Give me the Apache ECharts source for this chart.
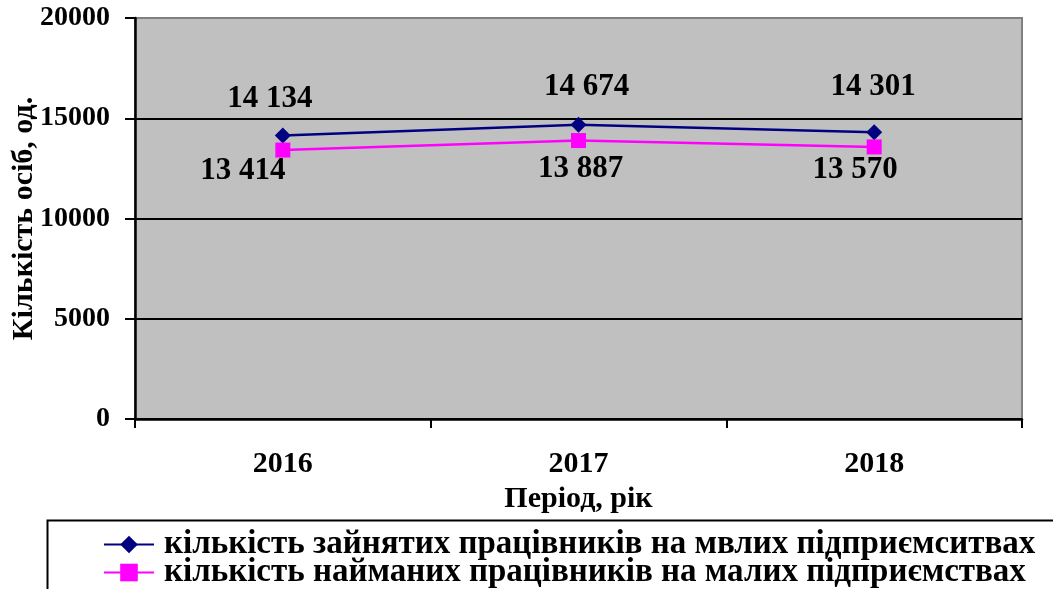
<!DOCTYPE html>
<html>
<head>
<meta charset="utf-8">
<script src="https://cdn.jsdelivr.net/npm/echarts@6/dist/echarts.min.js"></script>
<style>
  html, body { margin: 0; padding: 0; background: #fff; }
  #chart { width: 1053px; height: 589px; }
</style>
</head>
<body>
<div id="chart"></div>
<script>
const years = ["2016", "2017", "2018"];
const employed = [14134, 14674, 14301];
const hired = [13414, 13887, 13570];
const yTicks = [0, 5000, 10000, 15000, 20000];
const seriesNames = [
  "кількість зайнятих працівників на мвлих підприємситвах",
  "кількість найманих працівників на малих підприємствах"
];

// label nudges, point -> label centre
const employedOffsets = [[-13, -37], [8, -38], [-1, -45]];
const hiredOffsets = [[-40, 21], [2, 28], [-19, 23]];

const font = '"Liberation Serif", "Times New Roman", serif';
const fmt = (v) => String(v).replace(/\B(?=(\d{3})+(?!\d))/g, " ");

function withLabels(values, offsets) {
  return values.map((v, i) => ({
    value: v,
    label: { offset: offsets[i] }
  }));
}

// one legend per row so the bottom edge never forces a wrap
function legendRow(name, top) {
  return {
    orient: "vertical",
    left: 103,
    top: top,
    itemWidth: 50,
    itemHeight: 22,
    padding: 0,
    textStyle: { fontFamily: font, fontWeight: "bold", fontSize: 33, color: "#000", padding: [0, 0, 0, 5] },
    data: [name]
  };
}

const chart = echarts.init(document.getElementById("chart"));
chart.setOption({
  animation: false,
  textStyle: { fontFamily: font },
  grid: {
    left: 135, right: 31, top: 18, bottom: 170,
    outerBoundsMode: "none",
    show: true, backgroundColor: "#c0c0c0", borderColor: "#808080", borderWidth: 2
  },
  xAxis: {
    type: "category",
    data: years,
    boundaryGap: true,
    name: "Період, рік",
    nameLocation: "middle",
    nameGap: 55,
    nameTextStyle: { fontFamily: font, fontWeight: "bold", fontSize: 30, color: "#000" },
    axisLine: { lineStyle: { color: "#000", width: 2.5 } },
    axisTick: { show: true, interval: 0, length: 9, lineStyle: { color: "#000", width: 2 } },
    axisLabel: { margin: 30, fontFamily: font, fontWeight: "bold", fontSize: 30, color: "#000" }
  },
  yAxis: {
    type: "value",
    min: yTicks[0],
    max: yTicks[yTicks.length - 1],
    interval: yTicks[1] - yTicks[0],
    name: "Кількість осіб, од.",
    nameLocation: "middle",
    nameRotate: 90,
    nameGap: 96,
    nameMoveOverlap: false,
    nameTextStyle: { fontFamily: font, fontWeight: "bold", fontSize: 30, color: "#000" },
    axisLine: { show: true, lineStyle: { color: "#000", width: 2.5 } },
    axisTick: { show: true, inside: false, length: 10, lineStyle: { color: "#000", width: 2 } },
    axisLabel: {
      margin: 25, fontFamily: font, fontWeight: "bold", fontSize: 28, color: "#000",
      formatter: (v) => String(v)
    },
    splitLine: { show: true, showMaxLine: false, lineStyle: { color: "#000", width: 2 } }
  },
  legend: [legendRow(seriesNames[0], 528), legendRow(seriesNames[1], 556)],
  graphic: [{
    type: "rect",
    left: 45,
    top: 518,
    shape: { width: 1030, height: 90 },
    style: { fill: "none", stroke: "#000", lineWidth: 2 }
  }],
  series: [
    {
      name: seriesNames[0],
      type: "line",
      data: withLabels(employed, employedOffsets),
      symbol: "diamond",
      symbolSize: 16,
      lineStyle: { color: "#000080", width: 2.5 },
      itemStyle: { color: "#000080" },
      label: {
        show: true, position: "inside",
        formatter: (p) => fmt(p.value),
        fontFamily: font, fontWeight: "bold", fontSize: 31, color: "#000"
      }
    },
    {
      name: seriesNames[1],
      type: "line",
      data: withLabels(hired, hiredOffsets),
      symbol: "rect",
      symbolSize: 15,
      lineStyle: { color: "#ff00ff", width: 2.5 },
      itemStyle: { color: "#ff00ff" },
      label: {
        show: true, position: "inside",
        formatter: (p) => fmt(p.value),
        fontFamily: font, fontWeight: "bold", fontSize: 31, color: "#000"
      }
    }
  ]
});
</script>
</body>
</html>
